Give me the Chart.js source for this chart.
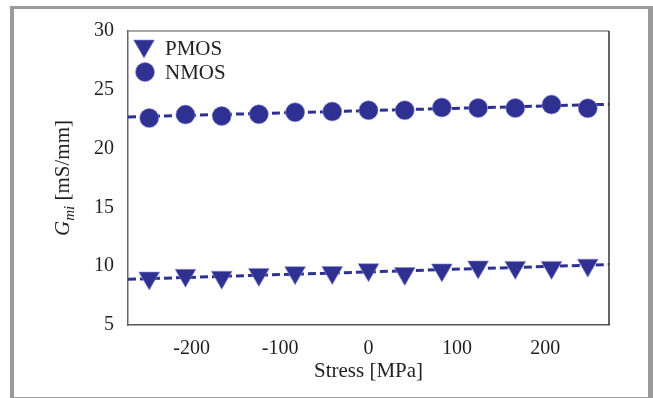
<!DOCTYPE html>
<html>
<head>
<meta charset="utf-8">
<script src="https://cdn.jsdelivr.net/npm/chart.js@4/dist/chart.umd.min.js"></script>
<style>
  html, body { margin: 0; padding: 0; background: #fff; }
  #wrap { position: relative; width: 653px; height: 398px; overflow: hidden; }
  #chart { position: absolute; left: 0; top: 0; }
  #frame {
    position: absolute; left: 10px; top: 6px; width: 634px; height: 388px;
    border-left: 4px solid #9a9a9a; border-top: 3px solid #9a9a9a;
    border-right: 5px solid #9a9a9a; border-bottom: 1px solid #9a9a9a;
    pointer-events: none;
  }
  #ytitle {
    position: absolute; left: 62px; top: 178px;
    transform: translate(-50%, -50%) rotate(-90deg);
    font: 21px "Liberation Serif", "Times New Roman", serif; color: #231f20;
    white-space: nowrap; line-height: 1;
  }
  #ytitle sub { font-size: 15px; vertical-align: -5px; line-height: 0; }
</style>
</head>
<body>
<div id="wrap">
  <canvas id="chart" width="653" height="398"></canvas>
  <div id="ytitle"><i>G</i><sub><i>mi</i></sub> [mS/mm]</div>
  <div id="frame"></div>
</div>
<script>
const stressMPa = [-248, -207, -166, -124, -83, -41, 0, 41, 83, 124, 166, 207, 248];
const pmosGm = [8.99, 9.22, 9.06, 9.30, 9.45, 9.46, 9.70, 9.38, 9.68, 9.93, 9.90, 9.90, 10.09];
const nmosGm = [22.60, 22.89, 22.77, 22.92, 23.09, 23.15, 23.26, 23.26, 23.49, 23.45, 23.45, 23.74, 23.43];
const fitX = [-272, 272];
const pmosFit = [8.89, 10.14];
const nmosFit = [22.69, 23.77];
const xTicks = [-200, -100, 0, 100, 200];
const yTicks = [5, 10, 15, 20, 25, 30];

const BLUE = "#2e3192";
const HALO = "rgba(140,140,210,0.6)";
const FAMILY = '"Liberation Serif", "Times New Roman", serif';
const TICK_FONT = { family: FAMILY, size: 20 };
const TITLE_FONT = { family: FAMILY, size: 21 };

function pts(xs, ys) {
  return xs.map((x, i) => ({ x: x, y: ys[i] }));
}

// legend drawn inside the plot, top-left
const insideLegend = {
  id: "insideLegend",
  afterDraw(chart) {
    const ctx = chart.ctx;
    const ds = chart.data.datasets;
    ctx.save();
    ctx.fillStyle = BLUE;
    ctx.strokeStyle = HALO;
    ctx.lineWidth = 1;
    // triangle (down)
    const tx = 144, ty = 46, r = 12;
    ctx.beginPath();
    ctx.moveTo(tx, ty + r);
    ctx.lineTo(tx - r * Math.sin(Math.PI / 3), ty - r / 2);
    ctx.lineTo(tx + r * Math.sin(Math.PI / 3), ty - r / 2);
    ctx.closePath();
    ctx.fill();
    ctx.stroke();
    // circle
    ctx.beginPath();
    ctx.arc(145, 72, 9.5, 0, Math.PI * 2);
    ctx.fill();
    ctx.stroke();
    ctx.fillStyle = "#231f20";
    ctx.font = "21px " + FAMILY;
    ctx.textBaseline = "alphabetic";
    ctx.fillText(ds[0].label, 165, 55);
    ctx.fillText(ds[1].label, 165, 79);
    ctx.restore();
  },
};

// top and right frame lines of the plot box
const boxLines = {
  id: "boxLines",
  afterDatasetsDraw(chart) {
    const { ctx, chartArea: a } = chart;
    ctx.save();
    ctx.lineWidth = 1.5;
    ctx.strokeStyle = "#8a8a8a";
    ctx.beginPath();
    ctx.moveTo(a.left, a.top);
    ctx.lineTo(a.right, a.top);
    ctx.stroke();
    ctx.strokeStyle = "#333";
    ctx.beginPath();
    ctx.moveTo(a.right, a.top);
    ctx.lineTo(a.right, a.bottom);
    ctx.stroke();
    ctx.restore();
  },
};

new Chart(document.getElementById("chart"), {
  type: "scatter",
  data: {
    datasets: [
      {
        label: "PMOS",
        data: pts(stressMPa, pmosGm),
        pointStyle: "triangle",
        rotation: 180,
        pointRadius: 12,
        backgroundColor: BLUE,
        borderColor: HALO,
        borderWidth: 1,
      },
      {
        label: "NMOS",
        data: pts(stressMPa, nmosGm),
        pointStyle: "circle",
        pointRadius: 9.5,
        backgroundColor: BLUE,
        borderColor: HALO,
        borderWidth: 1,
      },
      {
        type: "line",
        label: "PMOS fit",
        data: pts(fitX, pmosFit),
        borderColor: BLUE,
        borderWidth: 3,
        borderDash: [8, 4],
        pointRadius: 0,
      },
      {
        type: "line",
        label: "NMOS fit",
        data: pts(fitX, nmosFit),
        borderColor: BLUE,
        borderWidth: 3,
        borderDash: [8, 4],
        pointRadius: 0,
      },
    ],
  },
  options: {
    responsive: false,
    animation: false,
    events: [],
    layout: { padding: { top: 31, right: 44, left: 0, bottom: 0 } },
    plugins: { legend: { display: false }, tooltip: { enabled: false } },
    scales: {
      x: {
        type: "linear",
        min: fitX[0],
        max: fitX[1],
        afterBuildTicks: (s) => { s.ticks = xTicks.map((v) => ({ value: v })); },
        afterFit: (s) => { s.height = 73; },
        grid: { display: false, drawTicks: true, tickLength: 4, tickColor: "#555" },
        border: { color: "#555", width: 1.5 },
        ticks: { color: "#231f20", font: TICK_FONT, padding: 8, maxRotation: 0 },
        title: { display: true, text: "Stress [MPa]", color: "#231f20", font: TITLE_FONT, padding: { bottom: 14 } },
      },
      y: {
        min: 5,
        max: 30,
        afterBuildTicks: (s) => { s.ticks = yTicks.map((v) => ({ value: v })); },
        afterFit: (s) => { s.width = 128; },
        grid: { display: false, drawTicks: true, tickLength: 5, tickColor: "#555" },
        border: { color: "#666", width: 1.5 },
        ticks: { color: "#231f20", font: TICK_FONT, padding: 9 },
      },
    },
  },
  plugins: [insideLegend, boxLines],
});
</script>
</body>
</html>
